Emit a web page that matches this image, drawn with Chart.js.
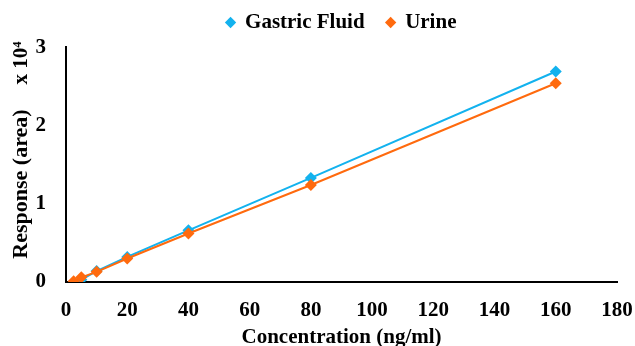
<!DOCTYPE html>
<html>
<head>
<meta charset="utf-8">
<script src="https://cdn.jsdelivr.net/npm/chart.js@4"></script>
<style>
  html, body { margin: 0; padding: 0; background: #fff; }
  #wrap { width: 635px; height: 346px; position: relative; }
</style>
</head>
<body>
<div id="wrap"><canvas id="chart"></canvas></div>
<script>
// Concentration (ng/ml) and response (area, x 10^4)
const gastricConc = [5, 10, 20, 40, 80, 160];
const gastricResp = [0.03, 0.14, 0.32, 0.66, 1.33, 2.69];
const urineConc = [2.5, 5, 10, 20, 40, 80, 160];
const urineResp = [0.01, 0.06, 0.13, 0.30, 0.62, 1.24, 2.54];
const xTicks = [0, 20, 40, 60, 80, 100, 120, 140, 160, 180];
const yTicks = [0, 1, 2, 3];

const FONT = "'Liberation Serif', 'Times New Roman', serif";
const BLUE = "#13B2EE";
const ORANGE = "#FF6A0E";

const toPoints = (xs, ys) => xs.map((x, i) => ({ x: x, y: ys[i] }));

// y title and the "x 10^4" multiplier, drawn rotated left of the axis
const yLabels = {
  id: "yLabels",
  afterDraw(chart) {
    const ctx = chart.ctx;
    ctx.save();
    ctx.fillStyle = "#000";
    ctx.textAlign = "center";
    ctx.textBaseline = "middle";
    ctx.font = "bold 22px " + FONT;
    ctx.translate(21, 184);
    ctx.rotate(-Math.PI / 2);
    ctx.fillText("Response (area)", 0, 0);
    ctx.restore();

    ctx.save();
    ctx.fillStyle = "#000";
    ctx.textAlign = "center";
    ctx.textBaseline = "middle";
    ctx.font = "bold 21px " + FONT;
    ctx.translate(22, 63);
    ctx.rotate(-Math.PI / 2);
    ctx.fillText("x 10\u2074", 0, 0);
    ctx.restore();
  }
};

const ctx = document.getElementById("chart").getContext("2d");
new Chart(ctx, {
  type: "scatter",
  data: {
    datasets: [
      {
        label: "Gastric Fluid",
        data: toPoints(gastricConc, gastricResp),
        showLine: true,
        borderColor: BLUE,
        backgroundColor: BLUE,
        borderWidth: 2,
        pointStyle: "rectRot",
        pointRadius: 6,
        pointBorderWidth: 0,
        order: 1
      },
      {
        label: "Urine",
        data: toPoints(urineConc, urineResp),
        showLine: true,
        borderColor: ORANGE,
        backgroundColor: ORANGE,
        borderWidth: 2,
        pointStyle: "rectRot",
        pointRadius: 6,
        pointBorderWidth: 0,
        order: 0
      }
    ]
  },
  options: {
    responsive: true,
    maintainAspectRatio: false,
    animation: false,
    layout: { padding: { top: -10, right: 0, left: 0, bottom: 0 } },
    scales: {
      x: {
        type: "linear",
        min: 0,
        max: 180,
        afterBuildTicks: (axis) => { axis.ticks = xTicks.map((v) => ({ value: v })); },
        afterFit: (axis) => { axis.height = 64; axis.paddingRight = 18; axis.paddingLeft = 0; },
        grid: { display: false, drawTicks: false },
        border: { color: "#000", width: 2 },
        ticks: { color: "#000", font: { family: FONT, size: 21, weight: "bold" }, padding: 16 },
        title: {
          display: true,
          text: "Concentration (ng/ml)",
          color: "#000",
          font: { family: FONT, size: 21, weight: "bold" },
          padding: { top: 0, bottom: -4 }
        }
      },
      y: {
        min: 0,
        max: 3,
        afterBuildTicks: (axis) => { axis.ticks = yTicks.map((v) => ({ value: v })); },
        afterFit: (axis) => { axis.width = 66; },
        grid: { display: false, drawTicks: false },
        border: { color: "#000", width: 2 },
        ticks: { color: "#000", font: { family: FONT, size: 21, weight: "bold" }, padding: 20 }
      }
    },
    plugins: {
      legend: {
        position: "top",
        fullSize: false,
        labels: {
          color: "#000",
          font: { family: FONT, size: 21, weight: "bold" },
          usePointStyle: true,
          pointStyle: "rectRot",
          boxWidth: 8,
          boxHeight: 8,
          padding: 22,
          sort: (a, b) => a.datasetIndex - b.datasetIndex
        }
      },
      // empty subtitle used as a small gap under the legend
      subtitle: {
        display: true,
        text: "",
        position: "top",
        weight: 500,
        font: { size: 3.5 },
        padding: 0
      },
      tooltip: { enabled: false }
    }
  },
  plugins: [yLabels]
});
</script>
</body>
</html>
